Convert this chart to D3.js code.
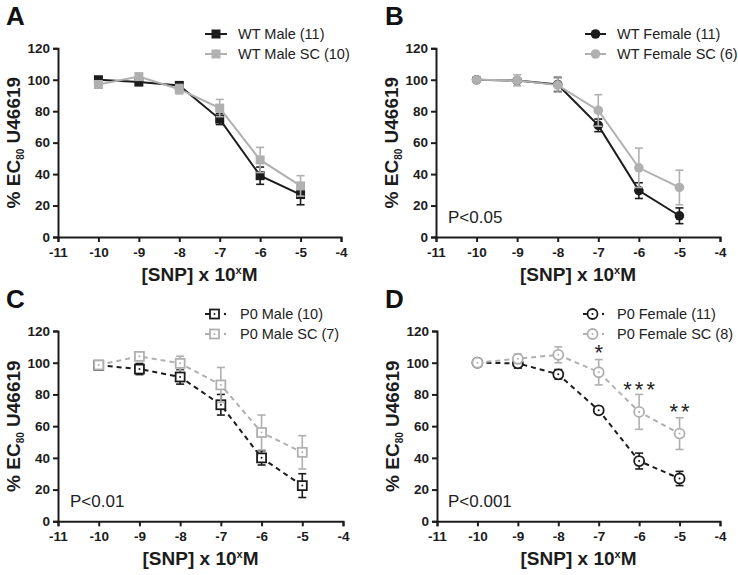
<!DOCTYPE html>
<html><head><meta charset="utf-8">
<script src="https://cdn.jsdelivr.net/npm/d3@7"></script>
<style>body{margin:0;background:#fff}svg{display:block}</style>
</head><body>
<svg id="c" width="738" height="575"></svg>
<script>
// ---- data ----
const doses = [-10, -9, -8, -7, -6, -5];
const xTicks = [-11, -10, -9, -8, -7, -6, -5, -4];
const yTicks = [0, 20, 40, 60, 80, 100, 120];

const wtMale      = [100, 98.5, 96.4, 75, 39, 27];
const wtMaleErr   = [1.5, 1.5, 2, 3.5, 5.5, 6.5];
const wtMaleSC    = [97, 102, 94, 82, 49, 32.5];
const wtMaleSCErr = [2, 2, 3, 5.5, 8, 6.5];

const wtFemale      = [100, 99.5, 97, 71, 29.5, 13.5];
const wtFemaleErr   = [0.5, 1, 4.5, 4, 5, 5];
const wtFemaleSC    = [100, 99.6, 96.6, 80.5, 44, 31.5];
const wtFemaleSCErr = [0.5, 3.5, 4.5, 10, 12.5, 11];

const p0Male      = [98.4, 96, 91, 73.5, 40, 22.5];
const p0MaleErr   = [1, 3.5, 4.5, 6.5, 4.5, 7.5];
const p0MaleSC    = [98.6, 104, 99.6, 86, 56, 43.5];
const p0MaleSCErr = [1, 1.5, 4.5, 11, 11, 10.5];

const p0Female      = [100, 99.6, 92.7, 70, 38, 27];
const p0FemaleErr   = [0.5, 3, 3, 2, 5, 4.5];
const p0FemaleSC    = [100, 102.5, 105, 94, 69, 55.3];
const p0FemaleSCErr = [0.5, 3, 5, 8, 11, 10];

const starDoses  = [-7, -6, -5];
const starValues = [110, 86.5, 73];
const starLabels = ["*", "***", "**"];

const pLabels = ["", "P<0.05", "P<0.01", "P<0.001"];
const legendNames = [
  ["WT Male (11)", "WT Male SC (10)"],
  ["WT Female (11)", "WT Female SC (6)"],
  ["P0 Male (10)", "P0 Male SC (7)"],
  ["P0 Female (11)", "P0 Female SC (8)"]
];

// ---- styles ----
const BLACK = "#1c1c1c", GREY = "#b0b0b0";
const FONT = "'Liberation Sans', Arial, sans-serif";
const svg = d3.select("#c");

const panels = [
  {letter:"A", lx:6, ly:25, x0:58, x1:341, y0:237, y1:48.3,
   series:[{v:wtMale,e:wtMaleErr,c:BLACK,m:"fsq"},{v:wtMaleSC,e:wtMaleSCErr,c:GREY,m:"fsq"}],
   names:legendNames[0], legX:205, legX2:227, legY:34, legTx:238, p:pLabels[0]},
  {letter:"B", lx:385, ly:25, x0:436, x1:720, y0:237, y1:48.3,
   series:[{v:wtFemale,e:wtFemaleErr,c:BLACK,m:"fci"},{v:wtFemaleSC,e:wtFemaleSCErr,c:GREY,m:"fci"}],
   names:legendNames[1], legX:585, legX2:606, legY:34, legTx:617, p:pLabels[1], px:448, py:223},
  {letter:"C", lx:6, ly:308, x0:58, x1:343, y0:521.3, y1:331,
   series:[{v:p0Male,e:p0MaleErr,c:BLACK,m:"osq",d:true},{v:p0MaleSC,e:p0MaleSCErr,c:GREY,m:"osq",d:true}],
   names:legendNames[2], legX:205, legX2:226, legY:314, legTx:240, p:pLabels[2], px:70, py:507},
  {letter:"D", lx:385, ly:308, x0:437, x1:720, y0:521.3, y1:331,
   series:[{v:p0Female,e:p0FemaleErr,c:BLACK,m:"oci",d:true},{v:p0FemaleSC,e:p0FemaleSCErr,c:GREY,m:"oci",d:true}],
   names:legendNames[3], legX:583, legX2:604, legY:314, legTx:617, p:pLabels[3], px:448, py:507, stars:true}
];

function marker(g, type, x, y, c) {
  if (type === "fsq") {
    g.append("rect").attr("x", x-4.5).attr("y", y-4.5).attr("width", 9).attr("height", 9).attr("fill", c);
  } else if (type === "fci") {
    g.append("circle").attr("cx", x).attr("cy", y).attr("r", 4.8).attr("fill", c);
  } else if (type === "osq") {
    g.append("rect").attr("x", x-4.5).attr("y", y-4.5).attr("width", 9).attr("height", 9)
      .attr("fill", "#fff").attr("stroke", c).attr("stroke-width", 1.8);
    g.append("circle").attr("cx", x).attr("cy", y).attr("r", 1).attr("fill", c);
  } else {
    g.append("circle").attr("cx", x).attr("cy", y).attr("r", 5)
      .attr("fill", "#fff").attr("stroke", c).attr("stroke-width", 1.8);
    g.append("circle").attr("cx", x).attr("cy", y).attr("r", 1).attr("fill", c);
  }
}

panels.forEach(P => {
  const x = d3.scaleLinear().domain([-11, -4]).range([P.x0, P.x1]);
  const y = d3.scaleLinear().domain([0, 120]).range([P.y0, P.y1]);
  const g = svg.append("g");

  // axes
  const ax = g.append("g").attr("transform", `translate(0,${P.y0})`)
    .call(d3.axisBottom(x).tickValues(xTicks).tickFormat(d => String(d))
      .tickSizeOuter(0).tickSize(5).tickPadding(5));
  const ay = g.append("g").attr("transform", `translate(${P.x0},0)`)
    .call(d3.axisLeft(y).tickValues(yTicks).tickFormat(d => String(d))
      .tickSizeOuter(0).tickSize(5).tickPadding(3));
  [ax, ay].forEach(a => {
    a.selectAll("path,line").attr("stroke", BLACK).attr("stroke-width", 2);
    a.selectAll("text").attr("font-family", FONT).attr("font-weight", "bold")
      .attr("font-size", 13.5).attr("fill", BLACK);
  });

  // axis titles
  const xt = g.append("text").attr("x", (P.x0 + P.x1)/2).attr("y", P.y0 + 44)
    .attr("text-anchor", "middle").attr("font-family", FONT).attr("font-weight", "bold")
    .attr("font-size", 19).attr("fill", BLACK);
  xt.append("tspan").text("[SNP] x 10");
  xt.append("tspan").attr("font-size", 11).attr("dy", -7).text("x");
  xt.append("tspan").attr("dy", 7).text("M");

  const yt = g.append("text").attr("transform", `translate(${P.x0 - 38},${(P.y0 + P.y1)/2}) rotate(-90)`)
    .attr("text-anchor", "middle").attr("font-family", FONT).attr("font-weight", "bold")
    .attr("font-size", 19).attr("fill", BLACK);
  yt.append("tspan").text("% EC");
  yt.append("tspan").attr("font-size", 10).attr("dy", 4).text("80");
  yt.append("tspan").attr("dy", -4).text(" U46619");

  // panel letter
  g.append("text").attr("x", P.lx).attr("y", P.ly).attr("font-family", FONT)
    .attr("font-weight", "bold").attr("font-size", 26).attr("fill", "#111").text(P.letter);

  // series
  P.series.forEach(s => {
    const pts = doses.map((d, i) => [d, s.v[i], s.e[i]]);
    g.append("path").datum(pts)
      .attr("d", d3.line().x(d => x(d[0])).y(d => y(d[1])))
      .attr("fill", "none").attr("stroke", s.c).attr("stroke-width", 2)
      .attr("stroke-dasharray", s.d ? "5,4" : null);
    pts.forEach(d => {
      const cx = x(d[0]);
      const eg = g.append("g").attr("stroke", s.c).attr("stroke-width", 1.6);
      eg.append("line").attr("x1", cx).attr("x2", cx).attr("y1", y(d[1]-d[2])).attr("y2", y(d[1]+d[2]));
      eg.append("line").attr("x1", cx-4).attr("x2", cx+4).attr("y1", y(d[1]-d[2])).attr("y2", y(d[1]-d[2]));
      eg.append("line").attr("x1", cx-4).attr("x2", cx+4).attr("y1", y(d[1]+d[2])).attr("y2", y(d[1]+d[2]));
    });
    pts.forEach(d => marker(g, s.m, x(d[0]), y(d[1]), s.c));
  });

  // legend
  P.series.forEach((s, i) => {
    const ly = P.legY + i * 20;
    const mx = (P.legX + P.legX2) / 2 - (s.d ? 1 : 0);
    if (s.d) {
      g.append("line").attr("x1", P.legX).attr("x2", P.legX + 6).attr("y1", ly).attr("y2", ly)
        .attr("stroke", s.c).attr("stroke-width", 2);
      g.append("circle").attr("cx", P.legX2 - 1).attr("cy", ly).attr("r", 1.2).attr("fill", s.c);
    } else {
      g.append("line").attr("x1", P.legX).attr("x2", P.legX2).attr("y1", ly).attr("y2", ly)
        .attr("stroke", s.c).attr("stroke-width", 2);
    }
    marker(g, s.m, mx, ly, s.c);
    g.append("text").attr("x", P.legTx).attr("y", ly + 5).attr("font-family", FONT)
      .attr("font-size", 14.5).attr("fill", "#222").text(P.names[i]);
  });

  // P value
  if (P.p) {
    g.append("text").attr("x", P.px).attr("y", P.py).attr("font-family", FONT)
      .attr("font-size", 17).attr("fill", "#222").text(P.p);
  }

  // stars
  if (P.stars) {
    starDoses.forEach((d, i) => {
      g.append("text").attr("x", x(d) + 1.5).attr("y", y(starValues[i]) + 13)
        .attr("text-anchor", "middle").attr("font-family", FONT).attr("font-size", 22)
        .attr("letter-spacing", 3).attr("fill", "#222").text(starLabels[i]);
    });
  }
});
</script>
</body></html>
